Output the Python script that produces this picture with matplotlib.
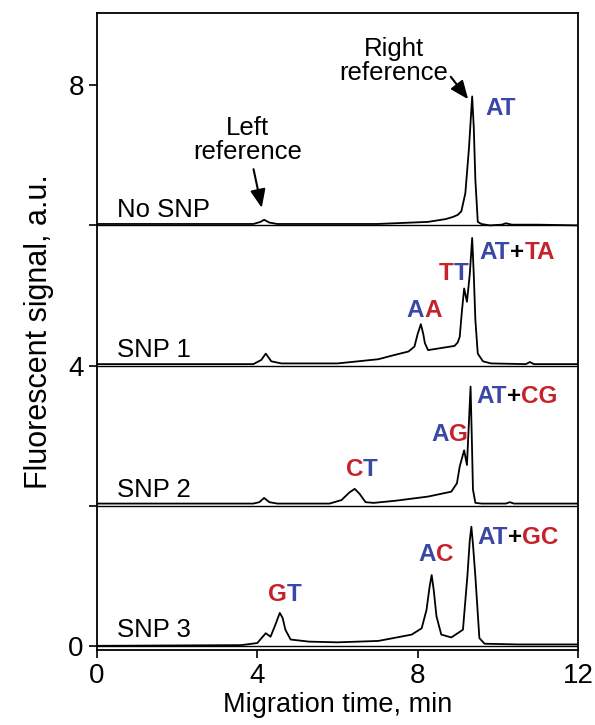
import matplotlib
matplotlib.use("Agg")
import matplotlib.pyplot as plt

plt.rcParams['font.family'] = ['Liberation Sans', 'DejaVu Sans']

BLUE = "#3b47a6"
RED = "#c4232b"

# electroferogramas (senal relativa a la linea base de cada traza)
names = ["No SNP", "SNP 1", "SNP 2", "SNP 3"]
offsets = [6, 4, 2, 0]

t_nosnp = [0, 3.9, 4.08, 4.17, 4.3, 4.5, 6.0, 7.0, 8.26, 8.7, 8.88, 9.0, 9.09, 9.19,
           9.28, 9.36, 9.4, 9.44, 9.5, 9.59, 9.8, 10.1, 10.2, 10.35, 11.0, 12.0]
s_nosnp = [0.02, 0.02, 0.05, 0.08, 0.04, 0.02, 0.02, 0.02, 0.05, 0.09, 0.12, 0.15, 0.20, 0.46,
           1.10, 1.84, 1.40, 0.65, 0.05, 0.02, 0.0, 0.01, 0.03, 0.01, 0.01, 0.0]

t_snp1 = [0, 3.9, 4.1, 4.21, 4.35, 4.6, 6.0, 7.02, 7.35, 7.77, 7.92, 8.0, 8.08, 8.14,
          8.18, 8.26, 8.59, 8.92, 9.0, 9.05, 9.1, 9.16, 9.23, 9.3, 9.36, 9.4, 9.44, 9.5,
          9.63, 9.83, 10.7, 10.8, 10.9, 12]
s_snp1 = [0.02, 0.02, 0.08, 0.17, 0.06, 0.03, 0.03, 0.09, 0.14, 0.20, 0.27, 0.45, 0.59, 0.45,
          0.32, 0.22, 0.25, 0.28, 0.33, 0.41, 0.75, 1.10, 0.91, 1.30, 1.82, 1.30, 0.65, 0.17,
          0.06, 0.03, 0.02, 0.05, 0.02, 0.02]

t_snp2 = [0, 3.9, 4.05, 4.17, 4.3, 4.5, 5.8, 6.1, 6.3, 6.43, 6.55, 6.7, 6.9, 7.44, 8.26,
          8.84, 8.98, 9.05, 9.16, 9.23, 9.28, 9.32, 9.35, 9.38, 9.44, 9.6, 10.2, 10.3, 10.4, 12]
s_snp2 = [0.03, 0.03, 0.05, 0.11, 0.05, 0.03, 0.03, 0.08, 0.19, 0.24, 0.17, 0.05, 0.04, 0.07, 0.13,
          0.20, 0.32, 0.56, 0.79, 0.58, 1.20, 1.70, 1.00, 0.23, 0.04, 0.03, 0.03, 0.05, 0.03, 0.03]

t_snp3 = [0, 3.6, 4.0, 4.21, 4.33, 4.45, 4.56, 4.63, 4.7, 4.83, 5.29, 6.0, 7.02, 7.85,
          8.1, 8.22, 8.3, 8.35, 8.4, 8.47, 8.59, 8.84, 9.13, 9.24, 9.3, 9.34, 9.38,
          9.44, 9.54, 9.67, 10.5, 12]
s_snp3 = [0.0, 0.01, 0.04, 0.18, 0.13, 0.30, 0.47, 0.40, 0.23, 0.09, 0.06, 0.05, 0.07, 0.16,
          0.25, 0.51, 0.85, 1.01, 0.80, 0.42, 0.16, 0.12, 0.23, 0.99, 1.50, 1.70, 1.45,
          0.99, 0.11, 0.03, 0.02, 0.02]

times = [t_nosnp, t_snp1, t_snp2, t_snp3]
signals = [s_nosnp, s_snp1, s_snp2, s_snp3]

# etiquetas de picos: (x, y, [(texto, color), ...])
peak_labels = [
    (9.68, 7.67, [("AT", BLUE)]),
    (9.55, 5.61, [("AT", BLUE), ("+", "black"), ("TA", RED)]),
    (8.53, 5.32, [("T", RED), ("T", BLUE)]),
    (7.72, 4.78, [("A", BLUE), ("A", RED)]),
    (9.46, 3.56, [("AT", BLUE), ("+", "black"), ("CG", RED)]),
    (8.35, 3.01, [("A", BLUE), ("G", RED)]),
    (6.20, 2.51, [("C", RED), ("T", BLUE)]),
    (9.50, 1.54, [("AT", BLUE), ("+", "black"), ("GC", RED)]),
    (8.01, 1.30, [("A", BLUE), ("C", RED)]),
    (4.27, 0.73, [("G", RED), ("T", BLUE)]),
]


def colored_label(ax, x, y, parts, size=17.5):
    t = ax.text(x, y, parts[0][0], color=parts[0][1], fontsize=size,
                fontweight="bold", ha="left", va="center")
    for s, c in parts[1:]:
        t = ax.annotate(s, xy=(1, 0), xycoords=t, ha="left", va="bottom",
                        color=c, fontsize=size, fontweight="bold")


fig = plt.figure(figsize=(5.95, 7.25), dpi=100)
ax = fig.add_axes([0.163, 0.1034, 0.8084, 0.8786])

for t, s, off, name in zip(times, signals, offsets, names):
    ax.plot(t, [v + off for v in s], color="black", lw=1.3)
    ax.axhline(off, color="black", lw=1.0)
    ax.text(0.5, off + 0.22, name, fontsize=18.5, ha="left", va="center")

for x, y, parts in peak_labels:
    colored_label(ax, x, y, parts)

ax.annotate("Left\nreference", xy=(4.11, 6.25), xytext=(3.75, 6.88),
            ha="center", va="bottom", fontsize=18.5, linespacing=1.0,
            arrowprops=dict(arrowstyle="-|>,head_length=0.6,head_width=0.25",
                            color="black", lw=1.5, shrinkA=2, shrinkB=0))
ax.annotate("Right\nreference", xy=(9.26, 7.8), xytext=(7.4, 8.0),
            ha="center", va="bottom", fontsize=18.5, linespacing=1.0,
            arrowprops=dict(arrowstyle="-|>,head_length=0.6,head_width=0.25",
                            color="black", lw=1.5, shrinkA=0, shrinkB=0,
                            relpos=(1.0, 0.25)))

ax.set_xlim(0, 12)
ax.set_ylim(-0.06, 9.03)
ax.set_xticks([0, 4, 8, 12])
ax.set_yticks([0, 4, 8])
ax.set_yticks([2, 6], minor=True)
ax.tick_params(axis="both", which="both", direction="out", length=6, width=1.2,
               labelsize=20)
for sp in ax.spines.values():
    sp.set_linewidth(1.3)

ax.set_xlabel("Migration time, min", fontsize=19.5, labelpad=2)
ax.set_ylabel("Fluorescent signal, a.u.", fontsize=22, labelpad=10)

fig.savefig("out.png", dpi=100)
